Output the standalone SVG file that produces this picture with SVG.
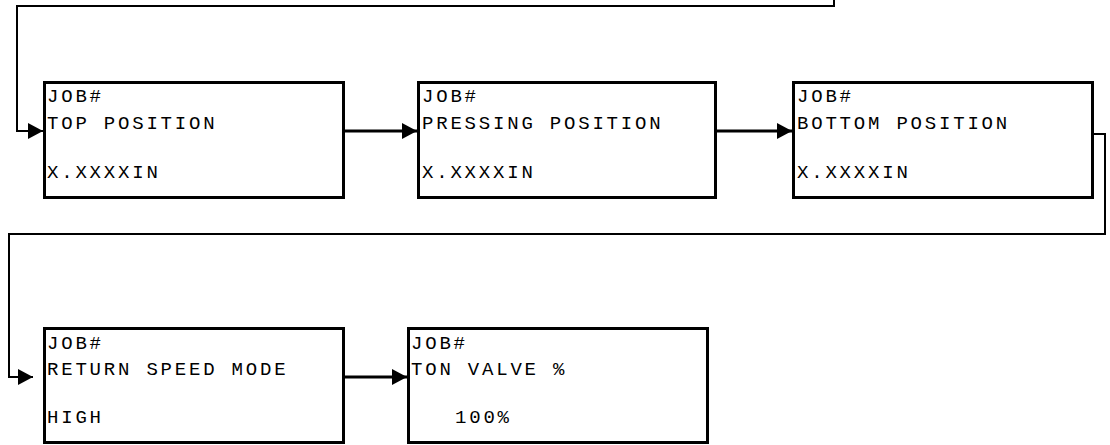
<svg xmlns="http://www.w3.org/2000/svg" width="1110" height="445" viewBox="0 0 1110 445">
  <style>
    .box { fill: #ffffff; stroke: #000000; stroke-width: 3; }
    .txt { font-family: "Liberation Mono", "DejaVu Sans Mono", monospace; font-size: 19px; letter-spacing: 2.8px; fill: #000000; }
    .thin { fill: none; stroke: #000000; stroke-width: 2; }
    .thick { fill: none; stroke: #000000; stroke-width: 3; }
  </style>
  <defs>
    <marker id="arrow" markerUnits="userSpaceOnUse" markerWidth="15" markerHeight="16" refX="15" refY="8" orient="auto">
      <path d="M0,0 L15,8 L0,16 Z" fill="#000000" stroke="none"/>
    </marker>
  </defs>
  <rect width="1110" height="445" fill="#ffffff"/>
  <g id="connectors">
    <path class="thin" d="M834,0 V6 H17 V131 H43" marker-end="url(#arrow)"/>
    <path class="thick" d="M345,131 H417" marker-end="url(#arrow)"/>
    <path class="thick" d="M717,131 H792" marker-end="url(#arrow)"/>
    <path class="thin" d="M1094,134 H1105 V234 H9 V377 H33" marker-end="url(#arrow)"/>
    <path class="thick" d="M345,377 H407" marker-end="url(#arrow)"/>
  </g>
  <g id="node-top-position">
    <rect class="box" x="44.5" y="82.5" width="299" height="115"/>
    <text class="txt" x="47" y="102">JOB#</text>
    <text class="txt" x="47" y="129">TOP POSITION</text>
    <text class="txt" x="47" y="178">X.XXXXIN</text>
  </g>
  <g id="node-pressing-position">
    <rect class="box" x="418.5" y="82.5" width="297" height="115"/>
    <text class="txt" x="422" y="102">JOB#</text>
    <text class="txt" x="422" y="129">PRESSING POSITION</text>
    <text class="txt" x="422" y="178">X.XXXXIN</text>
  </g>
  <g id="node-bottom-position">
    <rect class="box" x="793.5" y="82.5" width="299" height="115"/>
    <text class="txt" x="797" y="102">JOB#</text>
    <text class="txt" x="797" y="129">BOTTOM POSITION</text>
    <text class="txt" x="797" y="178">X.XXXXIN</text>
  </g>
  <g id="node-return-speed-mode">
    <rect class="box" x="44.5" y="328.5" width="299" height="114"/>
    <text class="txt" x="47" y="349">JOB#</text>
    <text class="txt" x="47" y="375">RETURN SPEED MODE</text>
    <text class="txt" x="47" y="423">HIGH</text>
  </g>
  <g id="node-ton-valve">
    <rect class="box" x="408.5" y="328.5" width="299" height="114"/>
    <text class="txt" x="411" y="349">JOB#</text>
    <text class="txt" x="411" y="375">TON VALVE %</text>
    <text class="txt" x="455" y="423">100%</text>
  </g>
</svg>
